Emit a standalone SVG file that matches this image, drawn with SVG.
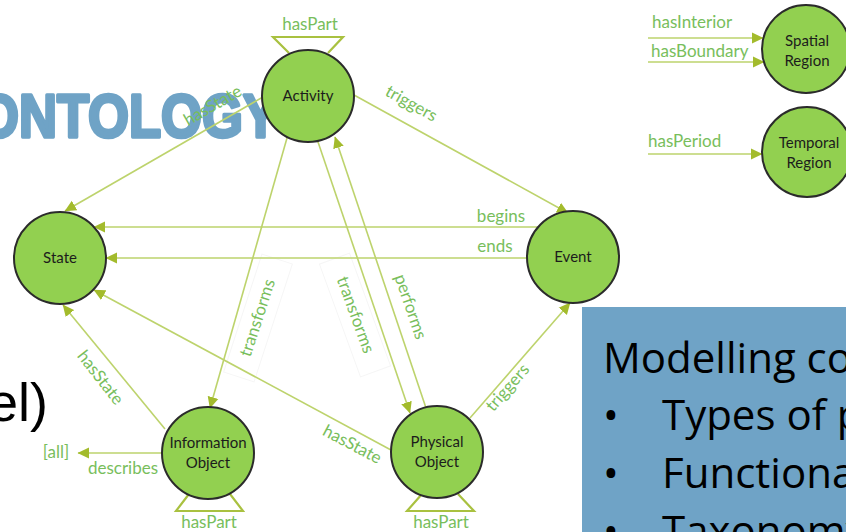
<svg xmlns="http://www.w3.org/2000/svg" width="846" height="532" viewBox="0 0 846 532">
  <defs>
    <marker id="arrow" markerUnits="userSpaceOnUse" markerWidth="12" markerHeight="12" refX="11" refY="6" orient="auto">
      <path d="M0,0.5 L11.5,6 L0,11.5 z" fill="#A3BB2C"/>
    </marker>
    <style>
      .node circle { fill: #92D050; stroke: #2b2b2b; stroke-width: 2; }
      .node text { font-family: Lato, "Liberation Sans", sans-serif; font-size: 15px; fill: #1c1c1c; text-anchor: middle; }
      .edge { stroke: #BDD36C; stroke-width: 1.6; fill: none; }
      .edge.arr { marker-end: url(#arrow); }
      .part { stroke: #A9C140; stroke-width: 2.2; fill: none; }
      .lbl { font-family: Lato, "Liberation Sans", sans-serif; font-size: 17px; fill: #78BE5C; text-anchor: middle; }
      .lbl.start { text-anchor: start; }
      .tag { fill: #ffffff; stroke: #f6f6f6; stroke-width: 1; }
      .big { font-family: "Liberation Sans", Arial, sans-serif; font-weight: bold; fill: #6FA3C6; stroke: #6FA3C6; stroke-width: 3.5; stroke-linejoin: round; }
      .panel { fill: #6FA3C6; }
      .panel-text { font-family: "Open Sans", "Liberation Sans", sans-serif; font-size: 42px; fill: #000; }
    </style>
  </defs>

  <!-- background headline fragments -->
  <text class="big" x="-22" y="137" font-size="62" textLength="300" lengthAdjust="spacingAndGlyphs">ONTOLOGY</text>
  <text x="48" y="421" font-family="Liberation Sans, Arial, sans-serif" font-size="54" fill="#000" text-anchor="end">el)</text>

  <!-- label backing tags for the two "transforms" relations -->
  <rect class="tag" x="-62" y="-16" width="124" height="32" transform="translate(258,318) rotate(-72)"/>
  <rect class="tag" x="-60" y="-16" width="120" height="32" transform="translate(355,315) rotate(70)"/>

  <!-- connectors -->
  <g id="connectors">
    <line class="edge arr" x1="263" y1="97" x2="65" y2="211"/>
    <line class="edge arr" x1="354" y1="95" x2="568" y2="213"/>
    <line class="edge arr" x1="540" y1="227" x2="94" y2="227"/>
    <line class="edge arr" x1="527" y1="258" x2="106" y2="258"/>
    <line class="edge arr" x1="287" y1="138" x2="210" y2="408"/>
    <line class="edge arr" x1="317" y1="139" x2="410" y2="413"/>
    <line class="edge arr" x1="426" y1="408" x2="335" y2="137"/>
    <line class="edge arr" x1="391" y1="450" x2="94" y2="290"/>
    <line class="edge arr" x1="165" y1="429" x2="63" y2="305"/>
    <line class="edge arr" x1="470" y1="418" x2="570" y2="303"/>
    <line class="edge arr" x1="162" y1="453" x2="78" y2="453"/>
    <line class="edge arr" x1="648" y1="38" x2="763" y2="38"/>
    <line class="edge arr" x1="648" y1="62" x2="764" y2="62"/>
    <line class="edge arr" x1="648" y1="154" x2="762" y2="154"/>

    <!-- hasPart self relations -->
    <polyline class="part" points="289,53 273,37 343,37 328,53"/>
    <polyline class="part" points="189,494 176,511 243,511 230,494"/>
    <polyline class="part" points="422,494 407,511 474,511 458,494"/>

    <!-- relation labels -->
    <text class="lbl" transform="translate(213,106) rotate(-30)" y="5">hasState</text>
    <text class="lbl" transform="translate(411,104) rotate(29)" y="5">triggers</text>
    <text class="lbl" x="501" y="222">begins</text>
    <text class="lbl" x="495" y="252">ends</text>
    <text class="lbl" transform="translate(258,318) rotate(-72)" y="5">transforms</text>
    <text class="lbl" transform="translate(355,315) rotate(70)" y="5">transforms</text>
    <text class="lbl" transform="translate(410,307) rotate(71)" y="5">performs</text>
    <text class="lbl" transform="translate(352,445) rotate(28)" y="5">hasState</text>
    <text class="lbl" transform="translate(100,378) rotate(52)" y="5">hasState</text>
    <text class="lbl" transform="translate(508,388) rotate(-49)" y="5">triggers</text>
    <text class="lbl" x="56" y="458">[all]</text>
    <text class="lbl" x="123" y="474">describes</text>
    <text class="lbl" x="310" y="30">hasPart</text>
    <text class="lbl" x="209" y="528">hasPart</text>
    <text class="lbl" x="441" y="528">hasPart</text>
    <text class="lbl start" x="652" y="28">hasInterior</text>
    <text class="lbl start" x="651" y="57">hasBoundary</text>
    <text class="lbl start" x="648" y="147">hasPeriod</text>
  </g>

  <!-- nodes -->
  <g id="activity" class="node">
    <circle cx="308" cy="96" r="46"/>
    <text x="308" y="101">Activity</text>
  </g>
  <g id="state" class="node">
    <circle cx="60" cy="258" r="46"/>
    <text x="60" y="263">State</text>
  </g>
  <g id="event" class="node">
    <circle cx="573" cy="257" r="46"/>
    <text x="573" y="262">Event</text>
  </g>
  <g id="information-object" class="node">
    <circle cx="208" cy="453" r="46"/>
    <text x="208" y="448">Information</text>
    <text x="208" y="468">Object</text>
  </g>
  <g id="physical-object" class="node">
    <circle cx="437" cy="452" r="46"/>
    <text x="437" y="447">Physical</text>
    <text x="437" y="467">Object</text>
  </g>
  <g id="spatial-region" class="node">
    <circle cx="806" cy="49" r="44"/>
    <text x="807" y="46">Spatial</text>
    <text x="807" y="66">Region</text>
  </g>
  <g id="temporal-region" class="node">
    <circle cx="807" cy="152" r="45"/>
    <text x="809" y="148">Temporal</text>
    <text x="809" y="168">Region</text>
  </g>

  <!-- side panel -->
  <rect class="panel" x="582" y="307" width="270" height="230"/>
  <text class="panel-text" x="603" y="373">Modelling co</text>
  <text class="panel-text" x="603" y="430">•</text>
  <text class="panel-text" x="662" y="430">Types of p</text>
  <text class="panel-text" x="603" y="488">•</text>
  <text class="panel-text" x="662" y="488">Functiona</text>
  <text class="panel-text" x="603" y="546">•</text>
  <text class="panel-text" x="662" y="546">Taxonomy</text>
</svg>
